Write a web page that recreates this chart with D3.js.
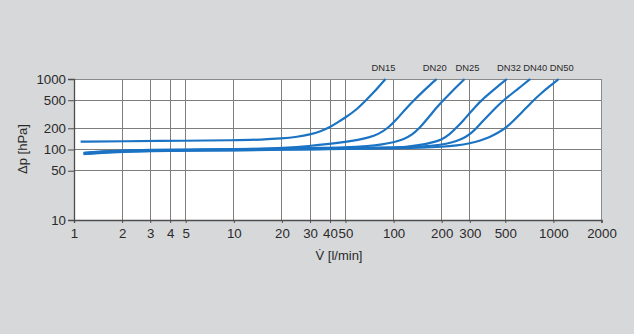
<!DOCTYPE html>
<html>
<head>
<meta charset="utf-8">
<script src="https://cdn.jsdelivr.net/npm/d3@7"></script>
<style>
  html, body { margin: 0; padding: 0; background: #d7d8da; }
  svg { display: block; }
  text { font-family: "Liberation Sans", Arial, Helvetica, sans-serif; fill: #2a2a2a; }
</style>
</head>
<body>
<svg id="chart" width="634" height="334"></svg>
<script>
// ---------- data ----------
const seriesNames = ["DN15", "DN20", "DN25", "DN32", "DN40", "DN50"];

const dn15 = [[1.1,129],[2,131],[5,133],[10,135],[15,138],[20,143],[25,151],[30,163],[35,181],[40,207],[45,245],[50,285],[58,360],[66,480],[75,640],[89,1000]];
const dn20 = [[1.15,88],[1.5,92],[2,95],[3,97],[5,98],[10,100],[15,102],[20,105],[30,112],[40,120],[50,128],[60,137],[70,148],[80,164],[92,200],[105,270],[120,385],[134,500],[155,688],[170,835],[186,1000]];
const dn25 = [[1.15,90],[1.5,94],[2,97],[3,99],[5,100],[10,101],[20,103],[30,105],[50,107],[70,112],[85,118],[100,126],[115,138],[130,160],[145,200],[160,260],[175,335],[190,415],[205,500],[225,620],[250,790],[278,1000]];
const dn32 = [[1.15,87],[1.5,91],[2,94],[3,96],[5,97],[10,98],[20,100],[50,103],[100,106],[120,109],[140,114],[160,120],[180,128],[200,138],[222,160],[245,200],[270,250],[300,330],[325,405],[355,500],[400,630],[450,790],[512,1000]];
const dn40 = [[1.15,89],[1.5,93],[2,96],[3,98],[5,99],[10,100],[20,102],[50,104],[100,106],[150,109],[200,117],[230,125],[260,137],[285,152],[310,175],[330,200],[360,250],[400,320],[440,400],[488,500],[550,620],[630,790],[717,1000]];
const dn50 = [[1.15,86],[1.5,90],[2,93],[3,95],[5,96],[10,97],[20,99],[50,102],[100,104],[150,106],[200,109],[250,114],[300,122],[350,134],[400,150],[450,172],[500,200],[560,253],[630,330],[734,475],[820,600],[940,780],[1079,1000]];
const seriesData = [dn15, dn20, dn25, dn32, dn40, dn50];

const xTickValues = [1, 2, 3, 4, 5, 10, 20, 30, 40, 50, 100, 200, 300, 500, 1000, 2000];
const yTickValues = [10, 50, 100, 200, 500, 1000];
const xDomain = [1, 2000];
const yDomain = [10, 1000];

// ---------- layout ----------
const plot = { left: 74, right: 601.5, top: 79, bottom: 220 };
const labelNudge = [-2, -2, 3, 2, 5, 3];

const svg = d3.select("#chart");
svg.append("rect").attr("width", 634).attr("height", 334).attr("fill", "#d7d8da");

const x = d3.scaleLog().domain(xDomain).range([plot.left, plot.right]);
const y = d3.scaleLog().domain(yDomain).range([plot.bottom, plot.top]);

// plot background
svg.append("rect")
  .attr("x", plot.left).attr("y", plot.top)
  .attr("width", plot.right - plot.left).attr("height", plot.bottom - plot.top)
  .attr("fill", "#ffffff");

// grid
const grid = svg.append("g").attr("stroke", "#7d7d7d").attr("stroke-width", 1).attr("shape-rendering", "crispEdges");
grid.selectAll("line.v").data(xTickValues.filter(v => v > xDomain[0] && v < xDomain[1]))
  .join("line").attr("class", "v")
  .attr("x1", d => x(d)).attr("x2", d => x(d))
  .attr("y1", plot.top).attr("y2", plot.bottom);
grid.selectAll("line.h").data(yTickValues.filter(v => v > yDomain[0] && v < yDomain[1]))
  .join("line").attr("class", "h")
  .attr("y1", d => y(d)).attr("y2", d => y(d))
  .attr("x1", plot.left).attr("x2", plot.right);
// top and right border
grid.append("line").attr("x1", plot.left).attr("x2", plot.right).attr("y1", plot.top).attr("y2", plot.top).attr("stroke", "#8a8a8a");
grid.append("line").attr("x1", plot.right).attr("x2", plot.right).attr("y1", plot.top).attr("y2", plot.bottom).attr("stroke", "#8a8a8a");

// curves
const line = d3.line()
  .x(d => x(d[0]))
  .y(d => y(d[1]))
  .curve(d3.curveBasis);

svg.append("g").selectAll("path").data(seriesData).join("path")
  .attr("d", line)
  .attr("fill", "none")
  .attr("stroke", "#1b73c4")
  .attr("stroke-width", 2.2)
  .attr("stroke-linecap", "butt")
  .attr("stroke-linejoin", "round");

// axes
const fmt = d3.format("d");
const yAxis = svg.append("g")
  .attr("transform", `translate(${plot.left},0)`)
  .call(d3.axisLeft(y).tickValues(yTickValues).tickFormat(fmt).tickSize(6).tickPadding(2));
const xAxis = svg.append("g")
  .attr("transform", `translate(0,${plot.bottom})`)
  .call(d3.axisBottom(x).tickValues(xTickValues).tickFormat(fmt).tickSize(3).tickPadding(6));

[xAxis, yAxis].forEach(a => {
  a.select(".domain").attr("stroke", "#4d4d4d").attr("stroke-width", 1.3);
  a.selectAll(".tick line").attr("stroke", "#4d4d4d");
  a.selectAll(".tick text")
    .attr("fill", "#2a2a2a")
    .style("font-family", '"Liberation Sans", Arial, Helvetica, sans-serif')
    .style("font-size", "13.3px");
});

// series labels
svg.append("g").selectAll("text").data(seriesNames).join("text")
  .attr("x", (d, i) => x(seriesData[i][seriesData[i].length - 1][0]) + labelNudge[i])
  .attr("y", 71)
  .attr("text-anchor", "middle")
  .style("font-size", "9.4px")
  .text(d => d);

// axis titles
svg.append("text")
  .attr("x", 339).attr("y", 260)
  .attr("text-anchor", "middle")
  .style("font-size", "13px")
  .text("V\u0307 [l/min]");

svg.append("text")
  .attr("transform", "translate(27,149) rotate(-90)")
  .attr("text-anchor", "middle")
  .style("font-size", "13px")
  .text("\u0394p [hPa]");
</script>
</body>
</html>
